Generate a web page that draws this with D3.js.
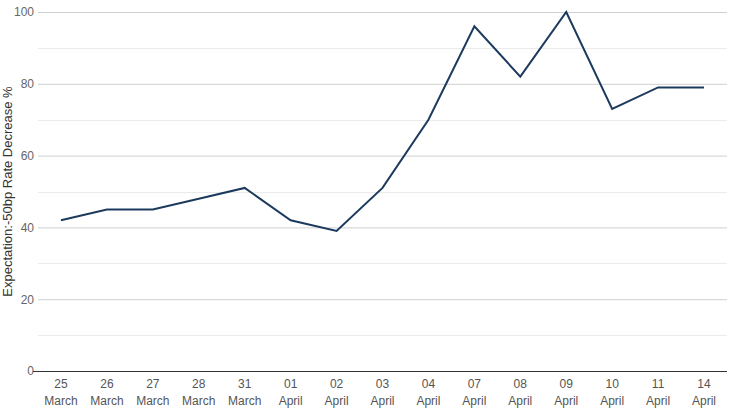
<!DOCTYPE html>
<html>
<head>
<meta charset="utf-8">
<script src="https://cdn.jsdelivr.net/npm/d3@7"></script>
<style>
  body { margin: 0; background: #fff; }
  svg { display: block; font-family: "Liberation Sans", Arial, sans-serif; }
</style>
</head>
<body>
<svg id="chart"></svg>
<script>
// data
const days = ['25', '26', '27', '28', '31', '01', '02', '03', '04', '07', '08', '09', '10', '11', '14'];
const months = ['March', 'March', 'March', 'March', 'March', 'April', 'April', 'April', 'April', 'April', 'April', 'April', 'April', 'April', 'April'];
const expectation = [42, 45, 45, 48, 51, 42, 39, 51, 70, 96, 82, 100, 73, 79, 79];
const yTicks = [0, 20, 40, 60, 80, 100];
const yMinor = [10, 30, 50, 70, 90];

const width = 733, height = 412;
const margin = { top: 12, right: 6, bottom: 41, left: 38 };

const svg = d3.select('#chart')
  .attr('width', width)
  .attr('height', height);

const x = d3.scaleBand()
  .domain(d3.range(days.length))
  .range([margin.left, width - margin.right]);

const y = d3.scaleLinear()
  .domain([0, 100])
  .range([height - margin.bottom, margin.top]);

// minor grid
svg.append('g')
  .selectAll('line')
  .data(yMinor)
  .join('line')
  .attr('x1', margin.left)
  .attr('x2', width - margin.right)
  .attr('y1', d => Math.round(y(d)) + 0.5)
  .attr('y2', d => Math.round(y(d)) + 0.5)
  .attr('stroke', '#ebebeb');

// y axis with major grid lines
const gY = svg.append('g')
  .attr('transform', `translate(${margin.left},0)`)
  .call(d3.axisLeft(y)
    .tickValues(yTicks)
    .tickSize(-(width - margin.left - margin.right))
    .tickPadding(4));

gY.select('.domain').remove();
gY.selectAll('.tick line').attr('stroke', '#cfcfcf');
gY.selectAll('.tick text')
  .attr('fill', '#666')
  .style('font-size', '12px');

// zero baseline
svg.append('line')
  .attr('x1', margin.left - 5)
  .attr('x2', width - margin.right)
  .attr('y1', Math.round(y(0)) + 0.5)
  .attr('y2', Math.round(y(0)) + 0.5)
  .attr('stroke', '#333');

// x labels (two lines)
const gX = svg.append('g')
  .attr('transform', `translate(0,${height - margin.bottom})`);

const lbl = gX.selectAll('text')
  .data(days)
  .join('text')
  .attr('x', (d, i) => x(i) + x.bandwidth() / 2)
  .attr('y', 17)
  .attr('text-anchor', 'middle')
  .attr('fill', '#555')
  .style('font-size', '12px');

lbl.append('tspan')
  .attr('x', (d, i) => x(i) + x.bandwidth() / 2)
  .text(d => d);
lbl.append('tspan')
  .attr('x', (d, i) => x(i) + x.bandwidth() / 2)
  .attr('dy', 17)
  .text((d, i) => months[i]);

// y axis title
svg.append('text')
  .attr('transform', `translate(12,${(margin.top + height - margin.bottom) / 2}) rotate(-90)`)
  .attr('text-anchor', 'middle')
  .attr('fill', '#333')
  .style('font-size', '13px')
  .text('Expectation:-50bp Rate Decrease %');

// line
const line = d3.line()
  .x((d, i) => x(i) + x.bandwidth() / 2)
  .y(d => y(d));

svg.append('path')
  .datum(expectation)
  .attr('fill', 'none')
  .attr('stroke', '#1c3a5e')
  .attr('stroke-width', 2)
  .attr('stroke-linejoin', 'miter')
  .attr('d', line);
</script>
</body>
</html>
